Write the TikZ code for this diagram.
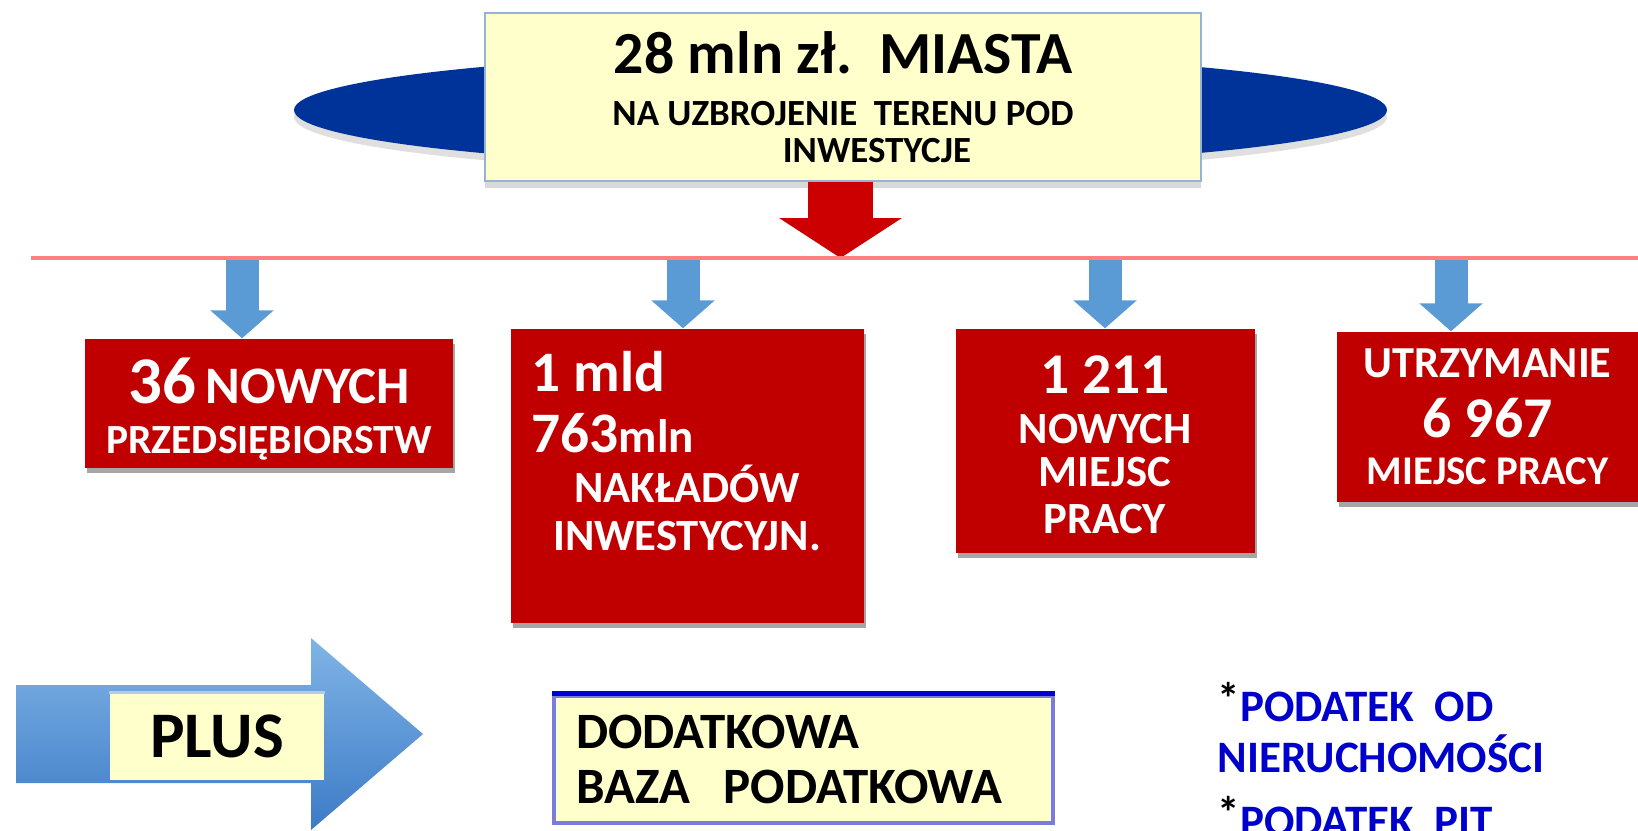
\documentclass[tikz,border=0pt]{standalone}
\usepackage{fontspec}
\setmainfont{Carlito}
\usetikzlibrary{arrows.meta,shapes.geometric,shadows}

\definecolor{titleyellow}{HTML}{FFFFCC}
\definecolor{titleline}{HTML}{95B3D7}
\definecolor{ovalblue}{HTML}{003399}
\definecolor{boxred}{HTML}{C00000}
\definecolor{arrowred}{HTML}{CC0000}
\definecolor{linepink}{HTML}{FF8080}
\definecolor{tapblue}{HTML}{5B9BD5}
\definecolor{plustop}{HTML}{80B4E6}
\definecolor{plusbottom}{HTML}{3C7BC6}
\definecolor{taxblue}{HTML}{0000CC}
\definecolor{dodline}{HTML}{7B7BDC}

\newcommand{\fsz}[2]{\fontsize{#1}{#2}\selectfont}
\newcommand{\taxstar}{{\color{black}\raisebox{2pt}{*}}}

\tikzset{
  redbox/.style={fill=boxred, text=white, inner sep=0pt, align=center,
    drop shadow={shadow xshift=0.02cm, shadow yshift=-0.05cm, fill=black, opacity=0.35}},
  tap/.style={draw=tapblue, line width=0.33cm, -{Triangle[width=0.62cm, length=0.28cm]}},
}

\begin{document}
\begin{tikzpicture}[font=\bfseries]
\useasboundingbox (0,0) rectangle (16.38,8.30);
\clip (0,0) rectangle (16.38,8.30);

% top: oval behind the title box
\node[ellipse, fill=ovalblue, minimum width=10.93cm, minimum height=1.14cm, inner sep=0pt,
  drop shadow={shadow xshift=0cm, shadow yshift=-0.07cm, opacity=0.25}] (oval) at (8.405,7.20) {};
\node[draw=titleline, line width=0.8pt, fill=titleyellow, minimum width=7.16cm, minimum height=1.68cm,
  inner sep=0pt, align=center, font=\bfseries\fsz{10.5}{10.5},
  drop shadow={shadow xshift=0cm, shadow yshift=-0.07cm, opacity=0.3}] (title) at (8.43,7.33)
  {{\fsz{17}{17}28 mln zł.\ \ MIASTA}\\[4.4pt] NA UZBROJENIE\ \ TERENU POD\\ \hspace*{0.68cm}INWESTYCJE};

\coordinate (lineL) at (0.31,5.72);
\coordinate (lineR) at (16.38,5.72);
\coordinate (redtip) at (8.405,5.72);
\draw[draw=arrowred, line width=0.65cm, -{Triangle[width=1.21cm, length=0.40cm]}] (title.south -| redtip) -- (redtip);

% red result boxes
\node[redbox, minimum width=3.68cm, minimum height=1.29cm, font=\bfseries\fsz{11.8}{14.2}] (firms) at (2.69,4.265)
  {\rule{0pt}{0.57cm}{\fsz{19}{19}36} {\fsz{15}{15}NOWYCH}\\PRZEDSIĘBIORSTW};
\node[redbox, minimum width=3.53cm, minimum height=2.94cm] (outlay) at (6.875,3.54) {};
\node[text=white, anchor=south west, inner sep=0pt, align=left, font=\bfseries\fsz{16.3}{17.6}] (outlaysum) at (5.31,3.76)
  {1 mld\\763{\fsz{13.4}{13.4}mln}};
\node[text=white, anchor=south, inner sep=0pt, align=center, font=\bfseries\fsz{12.7}{13.4}] (outlaytext) at (6.87,2.79)
  {NAKŁADÓW\\INWESTYCYJN.};
\node[redbox, minimum width=2.99cm, minimum height=2.24cm, font=\bfseries\fsz{12.7}{12.2}] (newjobs) at (11.05,3.89)
  {\rule{0pt}{0.45cm}{\fsz{16.4}{16.4}1 211}\\[2pt]NOWYCH\\MIEJSC\\[1.2pt]PRACY};
\node[redbox, minimum width=3.01cm, minimum height=1.70cm, font=\bfseries\fsz{11.6}{13.4}] (keptjobs) at (14.875,4.13)
  {{\fsz{12.6}{12.6}UTRZYMANIE}\\[3.6pt]{\fsz{16.4}{16.4}6 967}\\MIEJSC PRACY};

% taps from the line to the boxes
\foreach \x/\target in {2.42/firms, 6.83/outlay, 11.05/newjobs, 14.51/keptjobs}{
  \coordinate (tap) at (\x,5.70);
  \draw[tap] (tap) -- (tap |- \target.north);
}
\draw[linepink, line width=1.4pt] (lineL) -- (lineR);

% bottom row
\shade[top color=plustop, bottom color=plusbottom] (0.16,1.45) -- (3.11,1.45) -- (3.11,1.92) -- (4.23,0.96)
  -- (3.11,0.0) -- (3.11,0.47) -- (0.16,0.47) -- cycle;
\node[fill=titleyellow, minimum width=2.14cm, minimum height=0.87cm, inner sep=0pt,
  font=\bfseries\fsz{18.5}{18.5}] (plus) at (2.17,0.935) {PLUS};
\draw[titleline!70, line width=0.8pt] (plus.north west) -- (plus.north east);

\node[draw=dodline, line width=1.3pt, fill=titleyellow, minimum width=4.99cm, minimum height=1.27cm,
  text width=4.55cm, inner xsep=0.21cm, inner ysep=0pt, align=left, font=\bfseries\fsz{14.5}{15.9}] (taxbase) at (8.035,0.705)
  {DODATKOWA\\BAZA\ \ PODATKOWA};
\draw[taxblue, line width=1.5pt] (taxbase.north west) -- (taxbase.north east);

\node[anchor=south west, inner sep=0pt, align=left, text=taxblue, font=\bfseries\fsz{12.8}{14.5}] (taxlist) at (12.17,-0.07)
  {\taxstar PODATEK\ \ OD\\NIERUCHOMOŚCI\\[3.7pt]\taxstar PODATEK\ \ PIT};
\end{tikzpicture}
\end{document}
